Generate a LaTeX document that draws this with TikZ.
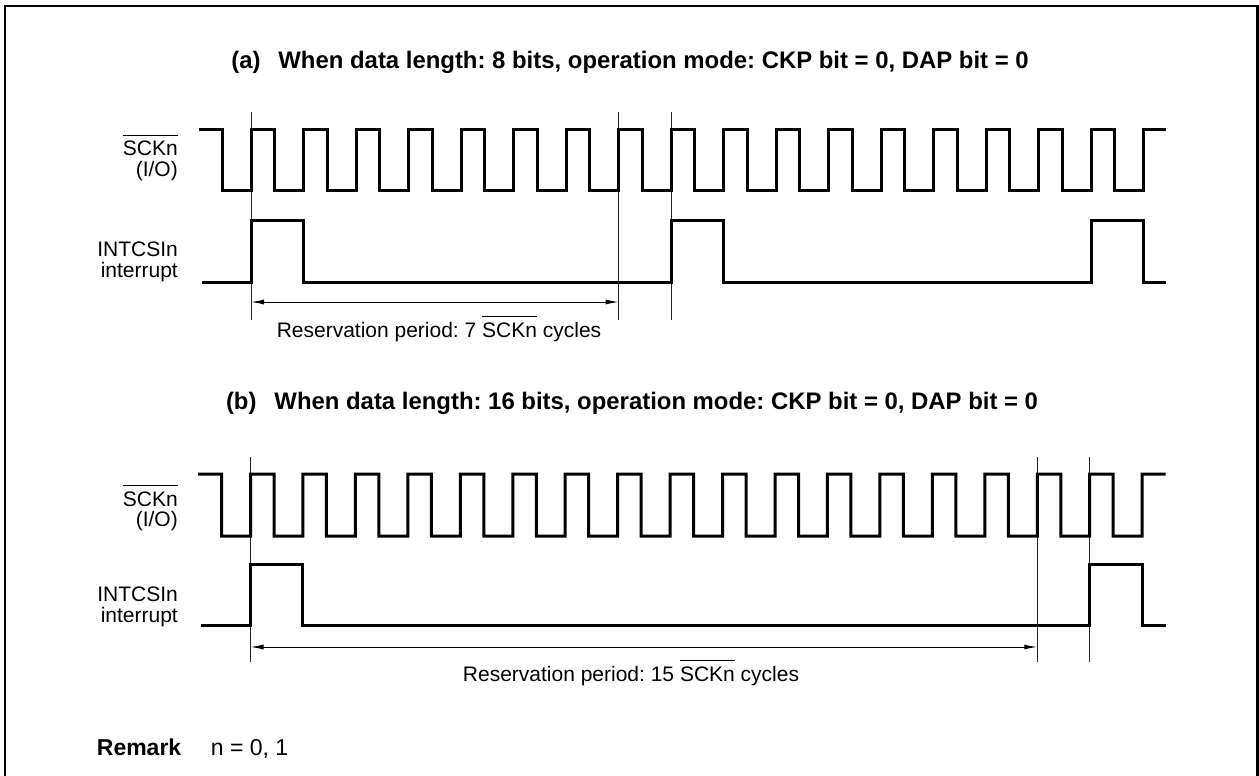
\documentclass[tikz,border=0pt]{standalone}
\usepackage{fontspec}
\setmainfont{Liberation Sans}
\usetikzlibrary{arrows.meta}
\frenchspacing
\newcommand\ovr[1]{\vbox{\hrule height 0.9pt\kern 5.5pt\hbox{#1}}}
\begin{document}
\begin{tikzpicture}[x=1pt,y=-1pt,
  wave/.style={line width=3pt,line join=miter},
  marker/.style={line width=1pt,black!85},
  dim/.style={line width=1pt,{Latex[length=13pt,width=5pt]}-{Latex[length=13pt,width=5pt]}},
  lbl/.style={font=\fontsize{21}{25}\selectfont,inner sep=0pt},
  ttl/.style={font=\fontsize{23.9}{28}\selectfont\bfseries,inner sep=0pt,anchor=base},
  rmk/.style={font=\fontsize{23}{28}\selectfont,inner sep=0pt,anchor=base west}]
\useasboundingbox (0,0) rectangle (1259,776);
% frame (open at bottom)
\draw[line width=2.6pt] (5,790) -- (5,6.2) -- (1257.5,6.2) -- (1257.5,790);

% ===================== (a) =====================
\node[ttl] (ta) at (630,69) {(a)\hspace{0.75em}When data length: 8 bits, operation mode: CKP bit = 0, DAP bit = 0};
\node[lbl,anchor=base east] (sa1) at (178,155.7) {\ovr{SCKn}};
\node[lbl,anchor=base east] (sa2) at (178,176) {(I/O)};
\node[lbl,anchor=base east] (ia1) at (178,256.7) {INTCSIn};
\node[lbl,anchor=base east] (ia2) at (178,277) {interrupt};
% markers
\coordinate (ma1) at (251,111.5);   \coordinate (ma1b) at (251,320);
\coordinate (ma2) at (618.5,111.5); \coordinate (ma2b) at (618.5,320);
\coordinate (ma3) at (671,111.5);   \coordinate (ma3b) at (671,320);
\draw[marker] (ma1) -- (ma1b);
\draw[marker] (ma2) -- (ma2b);
\draw[marker] (ma3) -- (ma3b);
% clock
\draw[wave] (199,129) -- (222,129) -- (222,190) -- (251,190)
  \foreach \k in {0,...,16} { -- ({251+52.5*\k},129) -- ({274.5+52.5*\k},129) -- ({274.5+52.5*\k},190) -- ({303.5+52.5*\k},190) }
  -- (1143.5,129) -- (1165.5,129);
% interrupt
\draw[wave] (201.5,282) -- (251,282) -- (251,220) -- (303.5,220) -- (303.5,282)
  -- (671,282) -- (671,220) -- (723.5,220) -- (723.5,282)
  -- (1091,282) -- (1091,220) -- (1143.5,220) -- (1143.5,282) -- (1165.5,282);
% dimension
\coordinate (da1) at (251,302); \coordinate (da2) at (618.5,302);
\draw[dim] (da1) -- (da2);
\node[lbl,anchor=base] (ra) at (439,337) {Reservation period: 7 \ovr{SCKn} cycles};

% ===================== (b) =====================
\node[ttl] (tb) at (632,409.5) {(b)\hspace{0.75em}When data length: 16 bits, operation mode: CKP bit = 0, DAP bit = 0};
\node[lbl,anchor=base east] (sb1) at (178,506) {\ovr{SCKn}};
\node[lbl,anchor=base east] (sb2) at (178,526.3) {(I/O)};
\node[lbl,anchor=base east] (ib1) at (178,601.7) {INTCSIn};
\node[lbl,anchor=base east] (ib2) at (178,622) {interrupt};
% markers
\coordinate (mb1) at (250.5,457);    \coordinate (mb1b) at (250.5,662);
\coordinate (mb2) at (1037.25,457);  \coordinate (mb2b) at (1037.25,662);
\coordinate (mb3) at (1089.7,457);   \coordinate (mb3b) at (1089.7,662);
\draw[marker] (mb1) -- (mb1b);
\draw[marker] (mb2) -- (mb2b);
\draw[marker] (mb3) -- (mb3b);
% clock
\draw[wave] (198,474) -- (221.5,474) -- (221.5,536) -- (250.5,536)
  \foreach \k in {0,...,16} { -- ({250.5+52.45*\k},474) -- ({274+52.45*\k},474) -- ({274+52.45*\k},536) -- ({302.95+52.45*\k},536) }
  -- (1142.15,474) -- (1165.5,474);
% interrupt
\draw[wave] (201,625) -- (250.5,625) -- (250.5,564) -- (302.95,564) -- (302.95,625)
  -- (1089.7,625) -- (1089.7,564) -- (1142.15,564) -- (1142.15,625) -- (1165.5,625);
% dimension
\coordinate (db1) at (250.5,647); \coordinate (db2) at (1037.25,647);
\draw[dim] (db1) -- (db2);
\node[lbl,anchor=base] (rb) at (631,681.5) {Reservation period: 15 \ovr{SCKn} cycles};

% remark
\node[rmk,font=\fontsize{23}{28}\selectfont\bfseries] (rm1) at (96.7,755) {Remark};
\node[rmk] (rm2) at (210.7,755) {n = 0, 1};
\end{tikzpicture}
\end{document}
